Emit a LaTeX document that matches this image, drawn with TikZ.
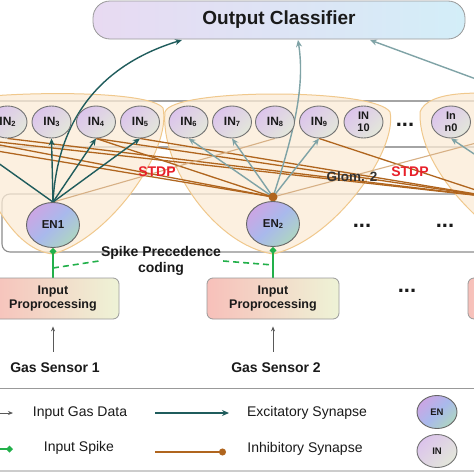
\documentclass[tikz,border=0pt]{standalone}
\usepackage{fontspec}
\setmainfont{Liberation Sans}
\usetikzlibrary{arrows.meta,shapes.geometric}
\pgfdeclarelayer{bg}
\pgfdeclarelayer{mid}
\pgfsetlayers{bg,mid,main}
\definecolor{exc}{HTML}{1F5C5C}
\definecolor{exctwo}{HTML}{7FA3A6}
\definecolor{inh}{HTML}{B0651E}
\definecolor{inhtwo}{HTML}{D7B085}
\definecolor{spk}{HTML}{22B04A}
\definecolor{glomline}{HTML}{F0C88C}
\definecolor{glomfill}{HTML}{FBEBD6}
\definecolor{boxline}{HTML}{A4A4A4}
\definecolor{inA}{HTML}{DCC4EC}
\definecolor{inB}{HTML}{E3E7DA}
\definecolor{enA}{HTML}{CBA6E4}
\definecolor{enB}{HTML}{A9B9EC}
\definecolor{enC}{HTML}{AED5C2}
\definecolor{ipA}{HTML}{F7C0BA}
\definecolor{ipB}{HTML}{EEF3D6}
\definecolor{ocA}{HTML}{E8DAF2}
\definecolor{ocB}{HTML}{D3EEF8}
\definecolor{stdp}{HTML}{E8202A}
\definecolor{txt}{HTML}{1A1A1A}
\newcommand{\mysub}[1]{\raisebox{-1.6pt}{\fontsize{7.5}{7.5}\selectfont #1}}
\begin{document}
\begin{tikzpicture}[x=1pt,y=-1pt,
  innode/.style={ellipse, draw=black!55, line width=0.9pt, minimum width=39pt, minimum height=32pt, inner sep=0pt,
    top color=inA, bottom color=inB, shading angle=45, font=\bfseries\fontsize{12}{12.5}\selectfont, align=center, text=txt},
  ennode/.style={ellipse, draw=black!60, line width=0.9pt, minimum width=53pt, minimum height=45pt, inner sep=0pt,
    top color=enA, bottom color=enC, middle color=enB, shading angle=45, font=\bfseries\fontsize{11.5}{12}\selectfont, text=txt},
  ipbox/.style={draw=black!40, line width=0.8pt, rounded corners=6pt, left color=ipA, right color=ipB,
    minimum width=132pt, minimum height=41pt, align=center, font=\bfseries\fontsize{12.5}{14}\selectfont, text=txt},
  outbox/.style={draw=black!40, line width=0.8pt, rounded corners=17pt, left color=ocA, right color=ocB,
    minimum width=372pt, minimum height=38pt, font=\bfseries\fontsize{19}{22}\selectfont, text=txt},
  boldtxt/.style={font=\bfseries\fontsize{14}{16}\selectfont, text=txt, align=center, inner sep=2pt},
  legtxt/.style={font=\fontsize{14}{16}\selectfont, text=txt},
  stdptxt/.style={font=\bfseries\fontsize{14}{16}\selectfont, text=stdp},
  dotstxt/.style={font=\bfseries\fontsize{22}{22}\selectfont, text=txt, inner sep=0pt},
  glom/.style={draw=glomline, line width=1pt, fill=glomfill, fill opacity=0.75},
  rowline/.style={draw=boxline, line width=1.1pt},
  exca/.style={exc, line width=1.4pt, -{Stealth[length=7pt,width=6pt]}},
  exctwoa/.style={exctwo, line width=1.4pt, -{Stealth[length=7pt,width=6pt]}},
  inhl/.style={inh, line width=1.3pt},
  inhtwol/.style={inhtwo, line width=1.1pt},
  spkarrow/.style={spk, line width=1.6pt, -{Diamond[length=7pt,width=7pt]}},
  spkdash/.style={spk, line width=1.6pt, dash pattern=on 6pt off 4pt},
  gasarrow/.style={black!65, line width=0.9pt, -{Stealth[length=5pt,width=4pt]}}
]
\useasboundingbox (0,0) rectangle (474,474);

% ---------- nodes ----------
\node[outbox] (oc) at (279,20) {Output Classifier};

\node[innode] (IN2) at (7.5,122) {IN\mysub{2}};
\node[innode] (IN3) at (51.5,122) {IN\mysub{3}};
\node[innode] (IN4) at (96,122) {IN\mysub{4}};
\node[innode] (IN5) at (140,122) {IN\mysub{5}};
\node[innode] (IN6) at (188.5,122) {IN\mysub{6}};
\node[innode] (IN7) at (232,122) {IN\mysub{7}};
\node[innode] (IN8) at (275,122) {IN\mysub{8}};
\node[innode] (IN9) at (319,122) {IN\mysub{9}};
\node[innode, font=\bfseries\fontsize{11}{12}\selectfont] (IN10) at (363.5,122) {IN\\10};
\node[dotstxt] (indots) at (405,125) {...};
\node[innode, font=\bfseries\fontsize{11}{12}\selectfont] (INn0) at (451,122) {In\\n0};

\node[ennode] (EN1) at (53,225) {EN1};
\node[ennode] (EN2) at (273,224) {EN\mysub{2}};
\node[dotstxt] (endotsa) at (362,226) {...};
\node[dotstxt] (endotsb) at (445,226) {...};

\node[stdptxt] (stdpa) at (157,172) {STDP};
\node[stdptxt] (stdpb) at (410,172) {STDP};
\node[boldtxt, font=\bfseries\fontsize{13.5}{16}\selectfont, text=black!80] (glomtwo) at (352,177) {Glom. 2};

\node[boldtxt] (spc) at (161,261) {Spike Precedence\\coding};

\node[ipbox] (ip1) at (53,298.5) {Input\\Proprocessing};
\node[ipbox] (ip2) at (273,298.5) {Input\\Proprocessing};
\node[ipbox] (ip3) at (534,298.5) {};
\node[dotstxt] (ipdots) at (407,291) {...};

\node[boldtxt] (gs1) at (55,368) {Gas Sensor 1};
\node[boldtxt] (gs2) at (276,368) {Gas Sensor 2};

% off-page / free end points
\coordinate (in0s) at (-81,138);
\coordinate (in1s) at (-37,138);
\coordinate (inx) at (495,138);
\coordinate (d2) at (273,197);
\coordinate (e3) at (500,198);
\coordinate (rin) at (495,168);
\coordinate (rout) at (495,86);
\coordinate (oc1) at (182,40);
\coordinate (oc2) at (298,40);
\coordinate (oc3) at (370,40);
\coordinate (g1) at (53,268);
\coordinate (g2) at (273,265);

% legend
\coordinate (lg1a) at (0,413);
\coordinate (lg1b) at (13,413);
\coordinate (lt1a) at (155,413);
\coordinate (lt1b) at (229,413);
\coordinate (ls1a) at (0,449);
\coordinate (ls1b) at (13,449);
\coordinate (li1a) at (155,452);
\coordinate (li1b) at (226,452);
\node[legtxt] (lgt1) at (80,413) {Input Gas Data};
\node[legtxt] (lgt2) at (307,413) {Excitatory Synapse};
\node[legtxt] (lgt3) at (79,448) {Input Spike};
\node[legtxt] (lgt4) at (305,449) {Inhibitory Synapse};
\node[ennode, minimum width=40pt, minimum height=33pt, font=\bfseries\fontsize{9.5}{10}\selectfont] (lgEN) at (437,412) {EN};
\node[innode, minimum width=40pt, minimum height=33pt, font=\bfseries\fontsize{9.5}{10}\selectfont] (lgIN) at (437,451) {IN};

% ---------- background ----------
\begin{pgfonlayer}{bg}
\fill[white] (0,0) rectangle (474,474);
\path[rowline, fill=white] (-5,101) rectangle (480,147);
\path[rowline, draw=black!45, rounded corners=8pt] (2,194) rectangle (490,252);
% glomeruli
\path[glom] (53,254) .. controls (110,238) and (172,150) .. (163,108)
   .. controls (150,91) and (30,91) .. (-30,98) -- (-30,150)
   .. controls (-10,200) and (15,250) .. (53,254) -- cycle;
\path[glom] (273,254) .. controls (215,245) and (160,165) .. (165,112)
   .. controls (172,88) and (375,88) .. (390,112)
   .. controls (398,150) and (335,240) .. (273,254) -- cycle;
\path[glom] (530,250) .. controls (500,245) and (418,175) .. (420,112)
   .. controls (428,90) and (480,90) .. (540,98) -- (540,250) -- cycle;
% legend rules
\draw[black!40, line width=1pt] (-2,388) -- (476,388);
\draw[black!20, line width=1.6pt] (-2,471) -- (476,471);
\end{pgfonlayer}

% ---------- connectors ----------
\begin{pgfonlayer}{mid}
% inhibitory
\foreach \s in {in0s,in1s,IN4.south} \draw[inhl] (\s) -- (d2);
\foreach \s in {in1s,IN2.south,IN4.south,IN5.south,IN9.south} \draw[inhl] (\s) -- (e3);
\draw[inhtwol] (EN1.north) -- (IN8.south);
\draw[inhtwol] (d2) -- (inx);
% excitatory
\foreach \t in {in1s,IN3.south,IN4.south,IN5.south} \draw[exca] (EN1.north) -- (\t);
\draw[exca] (EN1.north) .. controls (58,110) and (110,62) .. (oc1);
\foreach \t in {IN6.south,IN7.south,IN9.south} \draw[exctwoa] (d2) -- (\t);
\draw[exctwoa] (d2) .. controls (295,130) and (305,85) .. (oc2);
\draw[exctwoa] (rout) -- (oc3);
\draw[exctwoa] (rin) -- (INn0.south);
\fill[inh] (d2) circle (4.5pt);
% input spikes
\draw[spkarrow] (ip1.north) -- (EN1.south);
\draw[spkarrow] (ip2.north) -- (EN2.south);
\draw[spkdash] (g1) -- (spc.west);
\draw[spkdash] (spc.east) -- (g2);
% gas data
\draw[gasarrow, shorten <=9pt, shorten >=7pt] (gs1.north -| ip1.south) -- (ip1.south);
\draw[gasarrow, shorten <=9pt, shorten >=7pt] (gs2.north -| ip2.south) -- (ip2.south);
% legend connectors
\draw[gasarrow] (lg1a) -- (lg1b);
\draw[exca] (lt1a) -- (lt1b);
\draw[spkarrow] (ls1a) -- (ls1b);
\draw[inhl, -{Circle[length=7pt]}] (li1a) -- (li1b);
\end{pgfonlayer}
\end{tikzpicture}
\end{document}
